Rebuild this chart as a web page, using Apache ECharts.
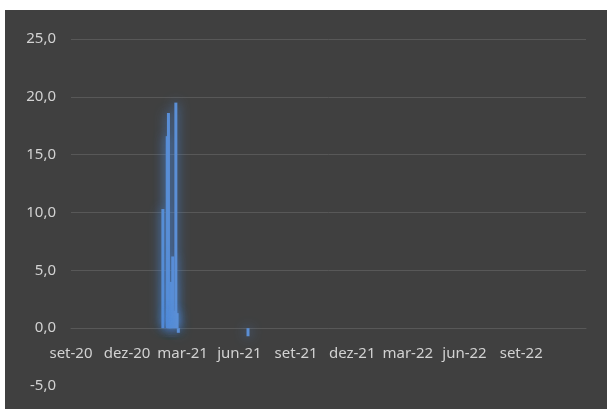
<!DOCTYPE html>
<html>
<head>
<meta charset="utf-8">
<script src="https://cdn.jsdelivr.net/npm/echarts@6/dist/echarts.min.js"></script>
<style>
  html, body { margin: 0; padding: 0; background: #ffffff; }
  #chart { position: absolute; left: 5px; top: 10px; width: 602px; height: 399px; background: #404040; }
</style>
</head>
<body>
<div id="chart"></div>
<script>
// Data
const dates = ['2021-01-28','2021-02-04','2021-02-06','2021-02-08','2021-02-09','2021-02-10','2021-02-13','2021-02-15','2021-02-18','2021-02-20','2021-02-22','2021-06-15'];
const values = [10.3, 16.6, 18.6, 1.5, 1.5, 4.0, 6.2, 1.5, 19.5, 1.3, -0.4, -0.7];

// Axis ticks
const xTickDates = ['2020-09-01','2020-12-01','2021-03-01','2021-06-01','2021-09-01','2021-12-01','2022-03-01','2022-06-01','2022-09-01'];
const xTickLabels = ['set-20','dez-20','mar-21','jun-21','set-21','dez-21','mar-22','jun-22','set-22'];
const yTickValues = [-5, 0, 5, 10, 15, 20, 25];
const yTickLabels = ['-5,0','0,0','5,0','10,0','15,0','20,0','25,0'];
const xMinDate = '2020-09-01';
const xMaxDate = '2022-12-15';

const DAY = 86400000;
const toDay = d => Math.round(Date.UTC(+d.slice(0,4), +d.slice(5,7) - 1, +d.slice(8,10)) / DAY);
const xTickDays = xTickDates.map(toDay);
const seriesData = dates.map((d, i) => [toDay(d), values[i]]);

const chart = echarts.init(document.getElementById('chart'), null, { renderer: 'canvas' });
const textColor = '#d2d2d2';
const gridColor = '#585858';
const font = 'Noto Sans';

chart.setOption({
  backgroundColor: '#404040',
  animation: false,
  grid: { left: 66, right: 21, top: 29, bottom: 23, containLabel: false, outerBoundsMode: 'none' },
  xAxis: {
    type: 'value',
    min: toDay(xMinDate),
    max: toDay(xMaxDate),
    offset: -58,
    axisLine: { show: true, onZero: false, lineStyle: { color: gridColor, width: 1 } },
    axisTick: { show: false },
    splitLine: { show: false },
    axisLabel: {
      customValues: xTickDays,
      hideOverlap: false,
      showMinLabel: true,
      showMaxLabel: true,
      color: textColor,
      fontFamily: font,
      fontSize: 15,
      margin: 18,
      formatter: function (v) {
        const i = xTickDays.indexOf(v);
        return i >= 0 ? xTickLabels[i] : '';
      }
    }
  },
  yAxis: {
    type: 'value',
    min: -5,
    max: 25,
    interval: 5,
    axisLine: { show: false },
    axisTick: { show: false },
    splitLine: { show: true, lineStyle: { color: ['rgba(0,0,0,0)', gridColor, gridColor, gridColor, gridColor, gridColor, gridColor], width: 1 } },
    axisLabel: {
      color: textColor,
      fontFamily: font,
      fontSize: 15,
      margin: 15,
      formatter: function (v) {
        const i = yTickValues.indexOf(v);
        return i >= 0 ? yTickLabels[i] : '';
      }
    }
  },
  series: [{
    type: 'bar',
    data: seriesData,
    barWidth: 3,
    itemStyle: {
      color: '#5b8fd6',
      shadowColor: 'rgba(80,140,220,0.95)',
      shadowBlur: 12
    }
  }]
});
</script>
</body>
</html>
